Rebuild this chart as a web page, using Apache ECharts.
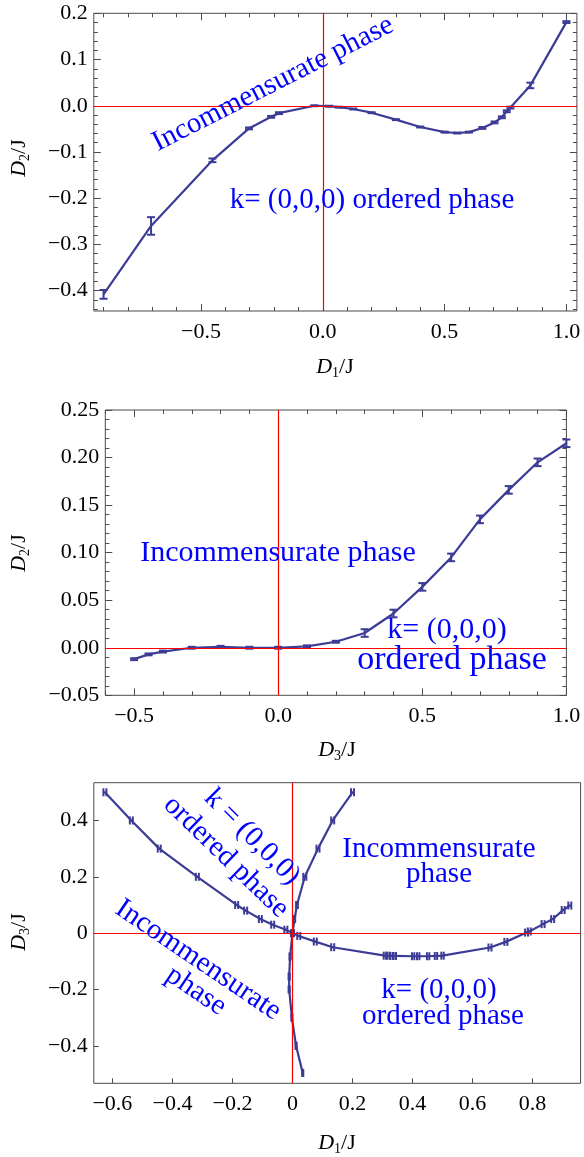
<!DOCTYPE html>
<html><head><meta charset="utf-8">
<script src="https://cdn.jsdelivr.net/npm/echarts@6/dist/echarts.min.js"></script>
<style>html,body{margin:0;padding:0;background:#fff}#c{width:584px;height:1157px}</style>
</head><body><div id="c"></div>
<script>
// ---------- Panel 1: D2/J vs D1/J ----------
const p1D1  = [-0.90, -0.705, -0.453, -0.303, -0.212, -0.18, -0.035, 0.026, 0.065, 0.125, 0.20, 0.30, 0.40, 0.50, 0.552, 0.60, 0.655, 0.705, 0.735, 0.755, 0.77, 0.852, 1.0];
const p1D2  = [-0.408, -0.260, -0.118, -0.049, -0.024, -0.016, 0.000, -0.001, -0.003, -0.007, -0.015, -0.030, -0.046, -0.057, -0.059, -0.057, -0.048, -0.036, -0.025, -0.012, -0.004, 0.044, 0.181];
const p1Err = [0.0095, 0.019, 0.004, 0.002, 0.002, 0.002, 0.001, 0.001, 0.001, 0.001, 0.001, 0.001, 0.001, 0.001, 0.001, 0.001, 0.002, 0.002, 0.002, 0.002, 0.002, 0.006, 0.002];
const p1XMajor = [-0.5, 0, 0.5, 1.0];
const p1YMajor = [-0.4, -0.3, -0.2, -0.1, 0, 0.1, 0.2];

// ---------- Panel 2: D2/J vs D3/J ----------
const p2D3  = [-0.5, -0.45, -0.40, -0.30, -0.20, -0.10, 0.0, 0.10, 0.20, 0.30, 0.40, 0.50, 0.60, 0.70, 0.80, 0.90, 1.00];
const p2D2  = [-0.012, -0.007, -0.004, 0.000, 0.001, 0.000, 0.000, 0.0015, 0.0063, 0.0155, 0.036, 0.064, 0.095, 0.135, 0.166, 0.195, 0.215];
const p2Err = [0.001, 0.001, 0.001, 0.001, 0.001, 0.001, 0.001, 0.001, 0.001, 0.004, 0.004, 0.004, 0.004, 0.004, 0.004, 0.004, 0.004];
const p2XMajor = [-0.5, 0, 0.5, 1.0];
const p2YMajor = [-0.05, 0, 0.05, 0.10, 0.15, 0.20, 0.25];

// ---------- Panel 3: D3/J vs D1/J (two boundaries) ----------
const p3aD1  = [-0.625, -0.537, -0.444, -0.317, -0.186, -0.156, -0.107, -0.066, -0.022, 0.0, 0.021, 0.076, 0.134, 0.308, 0.319, 0.330, 0.341, 0.402, 0.419, 0.452, 0.478, 0.500, 0.658, 0.711, 0.780, 0.789, 0.835, 0.867, 0.902, 0.924];
const p3aD3  = [0.50, 0.40, 0.30, 0.20, 0.10, 0.08, 0.05, 0.03, 0.012, 0.0, -0.01, -0.03, -0.05, -0.080, -0.080, -0.081, -0.081, -0.082, -0.082, -0.082, -0.081, -0.080, -0.051, -0.031, 0.002, 0.006, 0.032, 0.050, 0.082, 0.098];
const p3aErr = [0.005, 0.005, 0.005, 0.005, 0.005, 0.005, 0.005, 0.005, 0.005, 0.005, 0.005, 0.005, 0.005, 0.004, 0.004, 0.004, 0.004, 0.004, 0.004, 0.004, 0.004, 0.004, 0.005, 0.005, 0.005, 0.005, 0.005, 0.005, 0.005, 0.005];
const p3bD1  = [0.200, 0.134, 0.085, 0.041, 0.015, 0.007, 0.0, -0.008, -0.011, -0.011, -0.002, 0.012, 0.034];
const p3bD3  = [0.50, 0.40, 0.30, 0.20, 0.10, 0.05, 0.0, -0.083, -0.154, -0.20, -0.30, -0.40, -0.496];
const p3bErr = [0.005, 0.005, 0.005, 0.005, 0.003, 0.002, 0.002, 0.002, 0.002, 0.002, 0.002, 0.002, 0.002];
const p3XMajor = [-0.6, -0.4, -0.2, 0, 0.2, 0.4, 0.6, 0.8];
const p3YMajor = [-0.4, -0.2, 0, 0.2, 0.4];

// ---------- styling ----------
const LINE = '#3c3c96';
const FRAME = '#4a4a4a';
const SERIF = '"Liberation Serif", "Times New Roman", serif';
const BLUE = '#0000ff';

function minorTicks(min, max, step, majors) {
  const out = [];
  const n0 = Math.ceil(min / step - 1e-9), n1 = Math.floor(max / step + 1e-9);
  for (let n = n0; n <= n1; n++) {
    const v = +(n * step).toFixed(4);
    if (!majors.some(m => Math.abs(m - v) < 1e-9)) out.push(v);
  }
  return out;
}
function fmt(dec, zeroPlain) {
  return function (v) {
    if (zeroPlain && Math.abs(v) < 1e-9) return '0';
    return (+v).toFixed(dec).replace('-', '\u2212');
  };
}
function axis(kind, grid, pos, min, max, values, len, label) {
  return {
    type: 'value', gridIndex: grid, position: pos, min: min, max: max,
    axisLine: { show: false, onZero: false },
    splitLine: { show: false },
    axisTick: { show: true, inside: true, length: len, customValues: values, lineStyle: { color: FRAME, width: 1 } },
    axisLabel: label ? {
      show: true, customValues: values, formatter: label.f, margin: label.m,
      fontFamily: SERIF, fontSize: 22, color: '#000'
    } : { show: false }
  };
}
function errRender(dir) {
  return function (params, api) {
    const x = api.value(0), y = api.value(1), e = api.value(2);
    const style = { stroke: LINE, lineWidth: 2, fill: null };
    const cap = dir === 'v' ? 4 : 4;
    let a, b, kids;
    if (dir === 'v') {
      a = api.coord([x, y - e]); b = api.coord([x, y + e]);
      kids = [
        { type: 'line', shape: { x1: a[0], y1: a[1], x2: b[0], y2: b[1] }, style },
        { type: 'line', shape: { x1: a[0] - cap, y1: a[1], x2: a[0] + cap, y2: a[1] }, style },
        { type: 'line', shape: { x1: b[0] - cap, y1: b[1], x2: b[0] + cap, y2: b[1] }, style }
      ];
    } else {
      a = api.coord([x - e, y]); b = api.coord([x + e, y]);
      kids = [
        { type: 'line', shape: { x1: a[0], y1: a[1], x2: b[0], y2: b[1] }, style },
        { type: 'line', shape: { x1: a[0], y1: a[1] - cap, x2: a[0], y2: a[1] + cap }, style },
        { type: 'line', shape: { x1: b[0], y1: b[1] - cap, x2: b[0], y2: b[1] + cap }, style }
      ];
    }
    return { type: 'group', children: kids };
  };
}
function pairs(xs, ys) { return xs.map((x, i) => [x, ys[i]]); }
function triples(xs, ys, es) { return xs.map((x, i) => [x, ys[i], es[i]]); }

const ranges = {
  p1: { x: [-0.94, 1.043], y: [-0.444, 0.2] },
  p2: { x: [-0.6, 1.0], y: [-0.05, 0.25] },
  p3: { x: [-0.662, 0.96], y: [-0.533, 0.534] }
};

const xAxes = [], yAxes = [];
// panel 1 axes (indices 0..3)
(function () {
  const r = ranges.p1;
  const xm = minorTicks(r.x[0], r.x[1], 0.1, p1XMajor), ym = minorTicks(r.y[0], r.y[1], 0.02, p1YMajor);
  xAxes.push(axis('x', 0, 'bottom', r.x[0], r.x[1], p1XMajor, 7, { f: fmt(1), m: 10 }));
  xAxes.push(axis('x', 0, 'bottom', r.x[0], r.x[1], xm, 4));
  xAxes.push(axis('x', 0, 'top', r.x[0], r.x[1], p1XMajor, 7));
  xAxes.push(axis('x', 0, 'top', r.x[0], r.x[1], xm, 4));
  yAxes.push(axis('y', 0, 'left', r.y[0], r.y[1], p1YMajor, 7, { f: fmt(1), m: 6 }));
  yAxes.push(axis('y', 0, 'left', r.y[0], r.y[1], ym, 4));
  yAxes.push(axis('y', 0, 'right', r.y[0], r.y[1], p1YMajor, 7));
  yAxes.push(axis('y', 0, 'right', r.y[0], r.y[1], ym, 4));
})();
// panel 2 axes (indices 4..7)
(function () {
  const r = ranges.p2;
  const xm = minorTicks(r.x[0], r.x[1], 0.1, p2XMajor), ym = minorTicks(r.y[0], r.y[1], 0.01, p2YMajor);
  xAxes.push(axis('x', 1, 'bottom', r.x[0], r.x[1], p2XMajor, 7, { f: fmt(1), m: 10 }));
  xAxes.push(axis('x', 1, 'bottom', r.x[0], r.x[1], xm, 4));
  xAxes.push(axis('x', 1, 'top', r.x[0], r.x[1], p2XMajor, 7));
  xAxes.push(axis('x', 1, 'top', r.x[0], r.x[1], xm, 4));
  yAxes.push(axis('y', 1, 'left', r.y[0], r.y[1], p2YMajor, 7, { f: fmt(2), m: 6 }));
  yAxes.push(axis('y', 1, 'left', r.y[0], r.y[1], ym, 4));
  yAxes.push(axis('y', 1, 'right', r.y[0], r.y[1], p2YMajor, 7));
  yAxes.push(axis('y', 1, 'right', r.y[0], r.y[1], ym, 4));
})();
// panel 3 axes (index 8)
(function () {
  const r = ranges.p3;
  xAxes.push(axis('x', 2, 'bottom', r.x[0], r.x[1], p3XMajor, 5, { f: fmt(1, true), m: 10 }));
  yAxes.push(axis('y', 2, 'left', r.y[0], r.y[1], p3YMajor, 5, { f: fmt(1, true), m: 6 }));
})();

function refLines(xi, yi) {
  return {
    type: 'line', xAxisIndex: xi, yAxisIndex: yi, data: [], z: 1, silent: true,
    markLine: {
      silent: true, symbol: 'none', animation: false,
      label: { show: false },
      lineStyle: { color: '#ff0000', width: 1.2, type: 'solid' },
      data: [{ xAxis: 0 }, { yAxis: 0 }]
    }
  };
}
function curve(xi, yi, data) {
  return {
    type: 'line', xAxisIndex: xi, yAxisIndex: yi, data: data, z: 3,
    showSymbol: false, symbol: 'none', smooth: false,
    lineStyle: { color: LINE, width: 2.2 }, silent: true
  };
}
function errs(xi, yi, data, dir) {
  return {
    type: 'custom', xAxisIndex: xi, yAxisIndex: yi, data: data, z: 4,
    encode: { x: 0, y: 1 }, renderItem: errRender(dir), silent: true
  };
}

const series = [
  refLines(0, 0),
  curve(0, 0, pairs(p1D1, p1D2)),
  errs(0, 0, triples(p1D1, p1D2, p1Err), 'v'),
  refLines(4, 4),
  curve(4, 4, pairs(p2D3, p2D2)),
  errs(4, 4, triples(p2D3, p2D2, p2Err), 'v'),
  refLines(8, 8),
  curve(8, 8, pairs(p3aD1, p3aD3)),
  errs(8, 8, triples(p3aD1, p3aD3, p3aErr), 'h'),
  curve(8, 8, pairs(p3bD1, p3bD3)),
  errs(8, 8, triples(p3bD1, p3bD3, p3bErr), 'h')
];

const deg = Math.PI / 180;
function note(text, x, y, size, rot) {
  return {
    type: 'text', x: x, y: y, rotation: (rot || 0) * deg, z: 10, silent: true,
    style: {
      text: text, fill: BLUE, fontFamily: SERIF, fontSize: size,
      font: size + 'px ' + SERIF,
      align: 'center', verticalAlign: 'middle', textAlign: 'center', textVerticalAlign: 'middle'
    }
  };
}
function axisName(sub, x, y, rot) {
  return {
    type: 'text', x: x, y: y, rotation: (rot || 0) * deg, z: 10, silent: true,
    style: {
      text: '{i|D}{s|' + sub + '}{n|/J}', fill: '#000',
      align: 'center', verticalAlign: 'middle', textAlign: 'center', textVerticalAlign: 'middle',
      fontFamily: SERIF, fontSize: 22,
      rich: {
        i: { fontFamily: SERIF, fontSize: 22, fontStyle: 'italic', lineHeight: 26, fill: '#000', color: '#000' },
        s: { fontFamily: SERIF, fontSize: 14, lineHeight: 14, verticalAlign: 'bottom', fill: '#000', color: '#000' },
        n: { fontFamily: SERIF, fontSize: 22, lineHeight: 26, fill: '#000', color: '#000' }
      }
    }
  };
}

const option = {
  animation: false,
  backgroundColor: '#ffffff',
  grid: [
    { left: 93.8, top: 13.3, width: 483.1, height: 297.7, show: true, borderColor: FRAME, borderWidth: 1, backgroundColor: 'transparent' },
    { left: 105.3, top: 410, width: 461.1, height: 285.3, show: true, borderColor: FRAME, borderWidth: 1, backgroundColor: 'transparent' },
    { left: 93.8, top: 782.7, width: 486.8, height: 300.6, show: true, borderColor: FRAME, borderWidth: 1, backgroundColor: 'transparent' }
  ],
  xAxis: xAxes,
  yAxis: yAxes,
  series: series,
  graphic: [
    // panel 1
    note('Incommensurate phase', 273, 84, 29, 27),
    note('k= (0,0,0) ordered phase', 372, 200, 29),
    axisName('2', 19, 158, 90),
    axisName('1', 335, 367),
    // panel 2
    note('Incommensurate phase', 278, 553, 30),
    note('k= (0,0,0)', 447, 630, 30),
    note('ordered phase', 452, 660, 34),
    axisName('2', 19, 553, 90),
    axisName('3', 337, 750),
    // panel 3
    note('k = (0,0,0)', 252, 837, 29, -45),
    note('ordered phase', 226, 857, 29, -44),
    note('Incommensurate', 439, 849, 29),
    note('phase', 439, 874, 29),
    note('Incommensurate', 198, 960, 29, -34),
    note('phase', 196, 991, 29, -34),
    note('k= (0,0,0)', 439, 990, 29),
    note('ordered phase', 443, 1016, 29),
    axisName('3', 19, 932, 90),
    axisName('1', 337, 1143)
  ]
};

const chart = echarts.init(document.getElementById('c'), null, { renderer: 'canvas' });
chart.setOption(option);
</script>
</body></html>
